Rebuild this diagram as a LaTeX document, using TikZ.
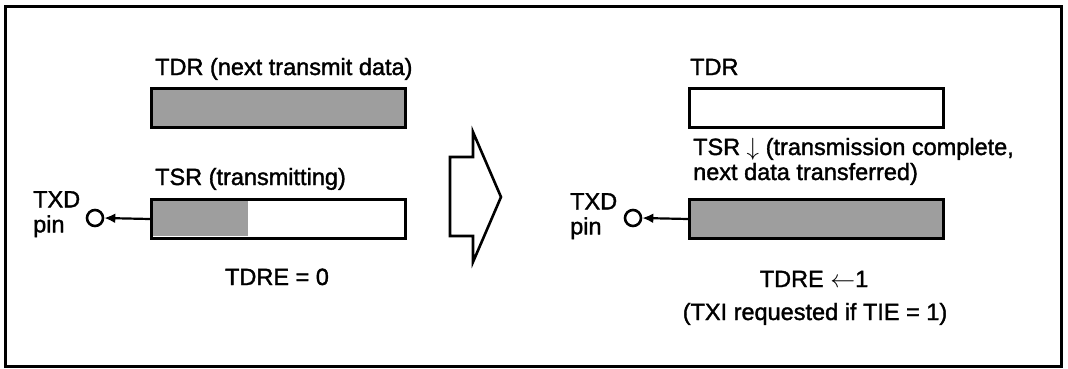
\documentclass[tikz,border=0pt]{standalone}
\usepackage{fontspec}
\setmainfont{Liberation Sans}[FakeBold=1.5]
\usetikzlibrary{arrows.meta,calc}
\begin{document}
\begin{tikzpicture}[x=1pt,y=-1pt,
  lbl/.style={anchor=base west,inner sep=0pt,font=\fontsize{23.5}{25}\selectfont},
  pinlbl/.style={anchor=north west,inner sep=0pt,align=left,font=\fontsize{23.5}{25}\selectfont},
  ctr/.style={anchor=base,inner sep=0pt,font=\fontsize{23.5}{25}\selectfont},
  reg/.style={draw,line width=3pt,minimum width=254pt,minimum height=39pt,anchor=north west,inner sep=0pt},
  shade/.style={fill=black!38},
  pin/.style={draw,circle,line width=2.6pt,minimum size=16pt,inner sep=0pt},
  conn/.style={line width=2.2pt,-{Latex[length=11pt,width=10pt]}}]
\useasboundingbox (0,0) rectangle (1068,368);
\draw[line width=3pt] (5,6) rectangle (1061,366);
% left side
\node[lbl] (tdrLt) at (155,75) {TDR (next transmit data)};
\node[reg,shade] (tdrL) at (150,87) {};
\node[lbl] (tsrLt) at (155,185) {TSR (transmitting)};
\node[reg] (tsrL) at (150,198) {};
\coordinate (tsrLs) at (248,236);
\fill[shade] ([shift={(1.5pt,-1.5pt)}]tsrL.north west) rectangle (tsrLs);
\node[reg] at (150,198) {};
\node[pin] (cL) at (95,218) {};
\draw[conn] (tsrL.west) -- (cL.east);
\node[pinlbl] (txdL) at (33,191) {TXD\\pin};
\node[ctr] (tdreL) at (277,285) {TDRE = 0};
% big hollow arrow
\draw[line width=2.6pt,line join=miter]
  (450,157) -- (473,157) -- (473,132) -- (501,197) -- (473,262) -- (473,236) -- (450,236) -- cycle;
% right side
\node[lbl] (tdrRt) at (690,75) {TDR};
\node[reg] (tdrR) at (688,87) {};
\node[lbl] (tsrRt1) at (693,155) {TSR $\downarrow$ (transmission complete,};
\node[lbl] (tsrRt2) at (693,180) {next data transferred)};
\node[reg,shade] (tsrR) at (688,198) {};
\node[pin] (cR) at (633,218) {};
\draw[conn] (tsrR.west) -- (cR.east);
\node[pinlbl] (txdR) at (570,193) {TXD\\pin};
\node[ctr] (tdreR) at (814,287) {TDRE $\leftarrow$1};
\node[ctr] (txiR) at (815,320) {(TXI requested if TIE = 1)};
\end{tikzpicture}
\end{document}
